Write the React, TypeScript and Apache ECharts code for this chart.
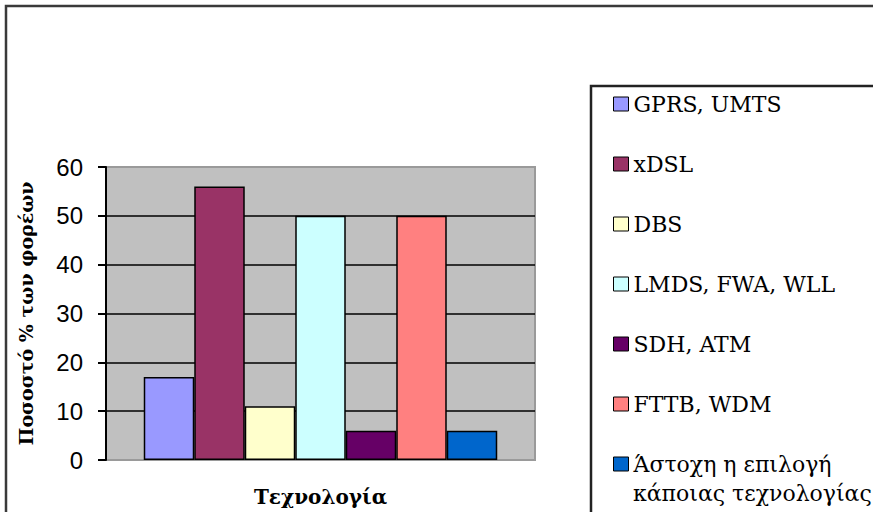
import React, { useEffect, useRef } from "react";
import * as echarts from "echarts";

const categories = [""];
const seriesNames = [
  "GPRS, UMTS",
  "xDSL",
  "DBS",
  "LMDS, FWA, WLL",
  "SDH, ATM",
  "FTTB, WDM",
  "Άστοχη η επιλογή\nκάποιας τεχνολογίας",
];
const seriesValues = [17, 56, 11, 50, 6, 50, 6];
const seriesColors = ["#9999FF", "#993366", "#FFFFCC", "#CCFFFF", "#660066", "#FF8080", "#0066CC"];
const yTicks = { min: 0, max: 60, interval: 10 };
const yTitle = "Ποσοστό % των φορέων";
const xTitle = "Τεχνολογία";

export default function App() {
  const ref = useRef<HTMLDivElement>(null);
  useEffect(() => {
    if (!ref.current) return;
    const chart = echarts.init(ref.current, undefined, { renderer: "svg" });
    const serif = "DejaVu Serif";
    const legendText = { fontFamily: serif, fontSize: 22, color: "#000", lineHeight: 28 };
    const lastLines = seriesNames[seriesNames.length - 1].split("\n");
    const option: any = {
      animation: false,
      backgroundColor: "#ffffff",
      textStyle: { fontFamily: serif },
      graphic: [
        {
          type: "rect",
          z: -10,
          shape: { x: 6, y: 6, width: 900, height: 600 },
          style: { fill: "none", stroke: "#3a3a3a", lineWidth: 2.5 },
        },
        {
          type: "rect",
          z: -10,
          shape: { x: 591, y: 86, width: 400, height: 500 },
          style: { fill: "none", stroke: "#222", lineWidth: 2.5 },
        },
        {
          type: "text",
          x: 633,
          y: 493,
          style: {
            text: lastLines[1],
            fontFamily: serif,
            fontSize: 22,
            fill: "#000",
            verticalAlign: "middle",
            align: "left",
          },
        },
      ],
      grid: {
        left: 106,
        right: 338,
        top: 167,
        bottom: 46,
        show: true,
        backgroundColor: "#C0C0C0",
        borderColor: "#9a9a9a",
        borderWidth: 2,
      },
      legend: {
        orient: "vertical",
        left: 613,
        top: 90,
        padding: 0,
        height: 1000,
        itemWidth: 15,
        itemHeight: 14,
        itemGap: 32,
        icon: "rect",
        itemStyle: { borderColor: "#000", borderWidth: 1 },
        textStyle: legendText,
        formatter: (name: string) => name.split("\n")[0],
        data: seriesNames.map((n) => ({ name: n, textStyle: legendText })),
      },
      xAxis: {
        type: "category",
        data: categories,
        axisLine: { show: false },
        axisTick: { show: false },
        axisLabel: { show: false },
        name: xTitle,
        nameLocation: "middle",
        nameGap: 27,
        nameTextStyle: { fontFamily: serif, fontWeight: "bold", fontSize: 20, color: "#000" },
      },
      yAxis: {
        type: "value",
        min: yTicks.min,
        max: yTicks.max,
        interval: yTicks.interval,
        axisLine: { show: true, lineStyle: { color: "#000", width: 2 } },
        axisTick: { show: true, inside: false, length: 8, lineStyle: { color: "#000", width: 2 } },
        axisLabel: {
          margin: 23,
          fontFamily: "Liberation Sans",
          fontSize: 24,
          color: "#000",
        },
        splitLine: {
          show: true,
          showMinLine: false,
          showMaxLine: false,
          lineStyle: { color: "#000", width: 1.5 },
        },
        name: yTitle,
        nameLocation: "middle",
        nameGap: 71,
        nameRotate: 90,
        nameTextStyle: { fontFamily: serif, fontWeight: "bold", fontSize: 19, color: "#000" },
      },
      series: seriesNames.map((n, i) => ({
        type: "bar",
        name: n,
        data: [seriesValues[i]],
        barGap: "0%",
        barCategoryGap: "17.6%",
        itemStyle: { color: seriesColors[i], borderColor: "#000", borderWidth: 1.5 },
      })),
    };
    chart.setOption(option);
    return () => chart.dispose();
  }, []);
  return (
    <div
      ref={ref}
      style={{ position: "fixed", left: 0, top: 0, width: 873, height: 512 }}
    />
  );
}
